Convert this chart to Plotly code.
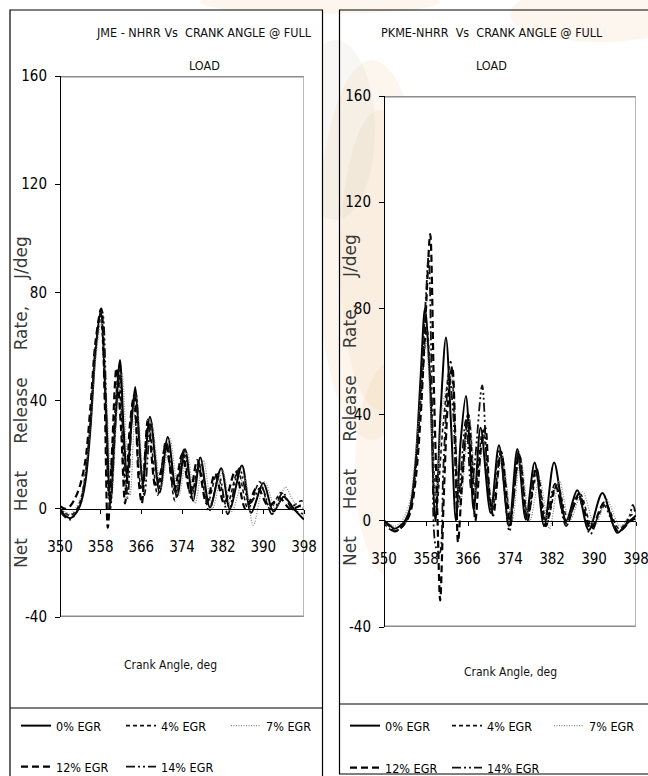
import plotly.graph_objects as go

W, H = 648, 776

NARROW = "Liberation Sans Narrow, DejaVu Sans Condensed, Roboto, sans-serif"
WIDE = "DejaVu Sans, Verdana, sans-serif"

X_TICKS = [350, 358, 366, 374, 382, 390, 398]
Y_TICKS = [-40, 0, 40, 80, 120, 160]
SERIES = ["0% EGR", "4% EGR", "7% EGR", "12% EGR", "14% EGR"]

# ---- JME : net heat release rate (J/deg) vs crank angle (deg) ----
jme_0_x = [350, 351, 352, 353, 354, 355, 356, 357, 358, 359, 359.9, 360.9, 361.8, 362.5, 363.2, 364.0, 364.8, 365.6, 366.3, 367.7, 369.6, 371.2, 373.0, 374.6, 376.2, 377.6, 379.5, 381.7, 383.4, 385.8, 387.6, 390.0, 392.0, 394.0, 396.0, 398.0]
jme_0_y = [0, -2.5, -3.5, -2, 1.5, 10, 30, 58, 73, 40, 2, 32, 55, 30, 11, 30, 45, 25, 9, 34, 6, 26.5, 4.5, 22, 3, 19, 0.5, 15, 0, 16, -1.5, 9.5, -1, 4.5, 0, -4]

jme_4_x = [350, 351, 352, 353, 354, 355, 356, 357, 357.9, 358.8, 359.6, 360.6, 361.5, 362.3, 363.0, 364.4, 366.0, 367.4, 369.2, 370.8, 372.6, 374.2, 375.8, 377.3, 379.0, 380.9, 382.8, 385.0, 387.0, 389.3, 391.3, 393.5, 395.5, 397.5, 398]
jme_4_y = [0, -1.5, -2.5, -1, 3, 13, 33, 60, 72, 45, 5, 30, 50, 25, 6, 40, 7, 32, 5, 25, 3, 21, 4, 17, 2, 13, 1, 14, 0, 10, 0, 6, 1, 3, 2]

jme_7_x = [350, 351, 352, 353, 354, 355, 356, 357, 358.2, 359.2, 360.2, 361.2, 362.2, 363.0, 363.8, 365.0, 366.6, 368.0, 369.9, 371.6, 373.4, 375.0, 376.6, 378.2, 380.0, 382.0, 383.8, 386.2, 388.0, 390.3, 392.4, 394.3, 396.2, 398]
jme_7_y = [0, -1, -2, 0, 4, 14, 32, 55, 70, 40, 5, 35, 50, 25, 5, 42, 10, 32, 8, 26, 5, 21, 2, 18, 0, 14, -1, 12, -6, 10, 0, 8, 2, 0]

jme_12_x = [350, 351, 352, 353, 354, 355, 356, 357, 358.1, 358.8, 359.4, 360.2, 361.1, 362.0, 362.8, 363.8, 364.6, 365.5, 366.1, 367.3, 368.8, 370.0, 370.8, 372.5, 374.0, 375.6, 377.0, 378.8, 380.5, 382.3, 384.5, 386.5, 388.8, 391.0, 393.2, 395.3, 398]
jme_12_y = [1, 0, 1, 4, 9, 18, 38, 62, 74, 40, -7, 20, 52, 30, 2, 32, 42, 10, 2, 33, 8, 15, 24, 7, 20, 6, 18, 2, 13, 2, 14, 0, 8, 1, 4, 0, 2]

jme_14_x = [350, 351, 352, 353, 354, 355, 356, 357, 358.3, 359.2, 359.9, 360.8, 361.6, 362.5, 363.3, 364.2, 364.9, 365.8, 366.6, 367.9, 369.4, 371.0, 372.8, 374.4, 376.0, 377.7, 379.3, 381.3, 383.0, 385.3, 387.3, 389.6, 391.7, 393.8, 395.6, 398]
jme_14_y = [-1, -3, -4, -2, 2, 12, 32, 60, 73, 30, 0, 28, 52, 25, 4, 35, 43, 18, 5, 32, 10, 24, 6, 22, 7, 17, -1, 12, -2, 15, 2, 8, -2, 6, 0, -2]

# ---- PKME : net heat release rate (J/deg) vs crank angle (deg) ----
pkme_0_x = [350, 351, 352, 353, 354, 355, 356, 357, 357.8, 358.7, 359.8, 360.8, 361.8, 362.8, 363.7, 364.6, 365.6, 366.4, 367.1, 368.4, 370.3, 371.9, 373.8, 375.4, 377.0, 378.7, 380.5, 382.4, 384.7, 386.8, 389.0, 391.6, 394.4, 396.3, 398]
pkme_0_y = [0, -1.5, -3, -2, 0, 5, 22, 55, 80, 55, 0, 42, 69, 35, 0, 30, 47, 25, 4, 35, 3, 28.5, -2, 27, 0.5, 22, -2, 22, 0, 11.5, -3.5, 10.5, -4.5, -1, 2]

pkme_4_x = [350, 351, 352, 353, 354, 355, 356, 357, 358.2, 359.0, 360.0, 361.2, 362.7, 363.6, 364.3, 366.1, 367.4, 368.8, 370.6, 372.3, 374.1, 375.8, 377.4, 379.2, 381.0, 383.0, 385.0, 387.4, 389.6, 392.2, 394.8, 397.0, 398]
pkme_4_y = [-1, -3, -4, -3, -1, 4, 18, 45, 72, 45, 5, 35, 60, 30, 8, 40, 12, 34, 4, 26, 2, 25, 2, 18, -1, 14, 1, 10, -2, 6, -3, 2, 3]

pkme_7_x = [350, 351, 352, 353, 354, 355, 356, 357, 358.0, 358.9, 359.9, 361.3, 362.9, 363.8, 364.5, 366.3, 367.6, 369.0, 370.8, 372.5, 374.4, 376.0, 377.8, 379.6, 381.5, 383.4, 385.4, 387.8, 390.2, 392.4, 395.0, 397.5, 398]
pkme_7_y = [0, -1, -2, -1, 2, 8, 25, 48, 68, 40, 8, 45, 55, 25, 5, 38, 10, 30, 5, 24, 0, 24, 0, 16, -3, 15, 0, 11, -2, 8, -2, 4, 4]

pkme_12_x = [350, 351, 352, 353, 354, 355, 356, 357, 358.0, 358.8, 359.5, 360.2, 360.7, 361.4, 362.2, 363.0, 363.6, 364.1, 364.9, 366.0, 366.9, 367.4, 368.5, 369.3, 370.1, 370.8, 372.3, 374.0, 375.7, 377.3, 379.0, 380.8, 382.7, 384.8, 387.1, 389.4, 392.0, 394.6, 397.0, 398]
pkme_12_y = [0, -2, -4, -3, -1, 3, 15, 40, 80, 108, 50, 0, -30, 10, 45, 58, 30, -8, 15, 40, 15, 0, 28, 35, 10, 2, 26, 0, 25, 0, 20, -2, 13, -1, 10, -3, 7, -4, 0, 1]

pkme_14_x = [350, 351, 352, 353, 354, 355, 356, 357, 358.0, 358.5, 359.2, 359.9, 360.6, 361.3, 362.4, 363.2, 364.0, 365.6, 366.6, 367.3, 368.7, 369.6, 370.4, 372.0, 373.9, 375.6, 377.2, 378.9, 380.7, 382.6, 384.7, 386.9, 389.3, 391.8, 394.5, 396.5, 397.4, 398]
pkme_14_y = [0, -2, -4, -3, 0, 5, 20, 50, 85, 100, 40, -10, -12, 20, 55, 40, 5, 38, 12, 22, 51, 20, 3, 27, -4, 26, 0, 20, 0, 14, -2, 10, -5, 6, -4, 0, 6, 2]

JME = [(jme_0_x, jme_0_y), (jme_4_x, jme_4_y), (jme_7_x, jme_7_y), (jme_12_x, jme_12_y), (jme_14_x, jme_14_y)]
PKME = [(pkme_0_x, pkme_0_y), (pkme_4_x, pkme_4_y), (pkme_7_x, pkme_7_y), (pkme_12_x, pkme_12_y), (pkme_14_x, pkme_14_y)]

STYLES = [
    dict(color="#000000", width=2.0, dash="solid"),
    dict(color="#111111", width=1.6, dash="4px,3px"),
    dict(color="#8a8a8a", width=1.3, dash="1px,1.5px"),
    dict(color="#000000", width=2.2, dash="7px,4px"),
    dict(color="#111111", width=1.8, dash="9px,3px,2px,3px,2px,3px"),
]


def px(x):
    return x / W


def py(y):
    return 1 - y / H


fig = go.Figure()

panels = [
    dict(data=JME, xa="x", ya="y", legends=["legend", "legend", "legend", "legend2", "legend2"]),
    dict(data=PKME, xa="x2", ya="y2", legends=["legend3", "legend3", "legend3", "legend4", "legend4"]),
]

for p in panels:
    for i, (xs, ys) in enumerate(p["data"]):
        fig.add_trace(go.Scatter(
            x=xs, y=ys, mode="lines", name=SERIES[i],
            line=dict(shape="spline", smoothing=0.9, **STYLES[i]),
            xaxis=p["xa"], yaxis=p["ya"], legend=p["legends"][i],
            showlegend=True, hoverinfo="skip",
        ))

# plot-area geometry in pixels: (left, right, top, bottom, y of zero line)
GEOM = {
    "1": (60, 304, 76, 617, 509),
    "2": (384, 636, 96, 627, 521),
}


def xaxis_cfg(g):
    l, r, t, b, z = g
    return dict(
        domain=[px(l), px(r)], range=[350, 398], anchor="free", position=py(z),
        tickvals=X_TICKS, ticktext=[str(v) for v in X_TICKS],
        ticks="outside", ticklen=4, tickcolor="black",
        showline=True, linecolor="black", linewidth=1.3,
        showgrid=False, zeroline=False,
        tickfont=dict(family=NARROW, size=15, color="black"),
        ticklabelstandoff=20, ticklabeloverflow="allow", fixedrange=True,
    )


def yaxis_cfg(g):
    l, r, t, b, z = g
    return dict(
        domain=[py(b), py(t)], range=[-40, 160], anchor="free", position=px(l),
        tickvals=Y_TICKS, ticktext=[str(v) for v in Y_TICKS],
        ticks="outside", ticklen=5, tickcolor="black",
        showline=True, linecolor="black", linewidth=1.3,
        showgrid=False, zeroline=False,
        tickfont=dict(family=NARROW, size=15, color="black"),
        ticklabelstandoff=5, ticklabeloverflow="allow", fixedrange=True,
    )


fig.update_layout(
    xaxis=xaxis_cfg(GEOM["1"]),
    yaxis=yaxis_cfg(GEOM["1"]),
    xaxis2=xaxis_cfg(GEOM["2"]),
    yaxis2=yaxis_cfg(GEOM["2"]),
)

shapes = []
# faint watermark behind the right-hand panel
WM = "rgba(240,205,160,0.18)"
WM2 = "rgba(200,190,175,0.13)"
for (cx, cy, rx, ry, col) in [(372, 250, 55, 190, WM), (380, 260, 40, 150, WM), (395, 470, 40, 110, WM),
                              (335, 130, 40, 90, WM2), (600, 14, 90, 28, WM), (320, 2, 120, 12, WM)]:
    shapes.append(dict(type="circle", xref="paper", yref="paper", layer="below",
                       x0=px(cx - rx), x1=px(cx + rx), y0=py(cy + ry), y1=py(cy - ry),
                       fillcolor=col, line=dict(width=0)))

# panel frames
shapes.append(dict(type="rect", xref="paper", yref="paper", layer="below",
                   x0=px(10), x1=px(322.5), y0=py(780), y1=py(10),
                   fillcolor="white", line=dict(color="black", width=1.2)))
shapes.append(dict(type="rect", xref="paper", yref="paper", layer="below",
                   x0=px(339.5), x1=px(650), y0=py(774), y1=py(10),
                   fillcolor="rgba(0,0,0,0)", line=dict(color="black", width=1.2)))
shapes.append(dict(type="line", xref="paper", yref="paper", layer="below",
                   x0=px(10), x1=px(322.5), y0=py(708), y1=py(708), line=dict(color="black", width=1.2)))
shapes.append(dict(type="line", xref="paper", yref="paper", layer="below",
                   x0=px(339.5), x1=px(648), y0=py(704), y1=py(704), line=dict(color="black", width=1.2)))

# white plot areas and their grey frames
for key, (l, r, t, b, z) in GEOM.items():
    shapes.append(dict(type="rect", xref="paper", yref="paper", layer="below",
                       x0=px(l), x1=px(r), y0=py(b), y1=py(t),
                       fillcolor="white", line=dict(width=0)))
    xr = "x" if key == "1" else "x2"
    yr = "y" if key == "1" else "y2"
    shapes.append(dict(type="line", xref=xr + " domain", yref=yr, x0=0, x1=1, y0=160, y1=160,
                       line=dict(color="#8c8c8c", width=3), layer="below"))
    shapes.append(dict(type="line", xref=xr + " domain", yref=yr, x0=0, x1=1, y0=-40, y1=-40,
                       line=dict(color="#8c8c8c", width=3), layer="below"))
    shapes.append(dict(type="line", xref=xr, yref=yr + " domain", x0=398, x1=398, y0=0, y1=1,
                       line=dict(color="#a0a0a0", width=1.5), layer="below"))

fig.update_layout(shapes=shapes)

TITLE_FONT = dict(family=NARROW, size=12.5, color="#111111")
YT_FONT = dict(family=WIDE, size=17, color="#3a3a3a")
XT_FONT = dict(family=NARROW, size=12, color="#111111")
GAP = "\u00a0" * 5
YTITLE = GAP.join(["Net", "Heat", "Release", "Rate,", "J/deg"])

annotations = [
    dict(text="JME - NHRR Vs  CRANK ANGLE @ FULL", x=px(204), y=py(33), font=TITLE_FONT),
    dict(text="LOAD", x=px(204), y=py(65), font=TITLE_FONT),
    dict(text="PKME-NHRR  Vs  CRANK ANGLE @ FULL", x=px(492), y=py(33), font=TITLE_FONT),
    dict(text="LOAD", x=px(491), y=py(65), font=TITLE_FONT),
    dict(text=YTITLE, x=px(21), y=py(402), textangle=-90, font=YT_FONT),
    dict(text=YTITLE, x=px(350), y=py(400), textangle=-90, font=YT_FONT),
    dict(text="Crank Angle, deg", x=px(170), y=py(665), font=XT_FONT),
    dict(text="Crank Angle, deg", x=px(511), y=py(672), font=XT_FONT),
]
for a in annotations:
    a.update(xref="paper", yref="paper", showarrow=False, xanchor="center", yanchor="middle")
fig.update_layout(annotations=annotations)

LEG_FONT = dict(family=NARROW, size=12.5, color="black")


def legend_cfg(x, y, ew):
    return dict(orientation="h", x=px(x), y=py(y), xanchor="left", yanchor="middle",
                bgcolor="rgba(0,0,0,0)", borderwidth=0, font=LEG_FONT,
                entrywidth=ew, entrywidthmode="pixels", itemwidth=30, itemclick=False,
                itemdoubleclick=False)


fig.update_layout(
    legend=legend_cfg(16, 726, 60),
    legend2=legend_cfg(16, 767, 60),
    legend3=legend_cfg(345, 726, 57),
    legend4=legend_cfg(345, 768, 57),
)

fig.update_layout(
    width=W, height=H, autosize=False,
    margin=dict(l=0, r=0, t=0, b=0, pad=0, autoexpand=False),
    paper_bgcolor="white", plot_bgcolor="white",
    showlegend=True,
)

fig.write_html("out.html", config={"displayModeBar": False, "staticPlot": True})
